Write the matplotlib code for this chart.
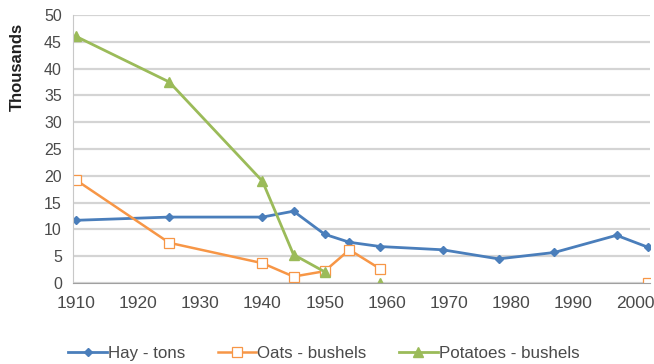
import numpy as np
import matplotlib.pyplot as plt

plt.rcParams['font.family'] = ['Liberation Sans', 'DejaVu Sans']

# values (thousands); nan = gap in the line
hay_years = [1910, 1925, 1940, 1945, 1950, 1954, 1959, 1969, 1978, 1987, 1997, 2002]
hay_tons = [11.7, 12.3, 12.3, 13.4, 9.1, 7.6, 6.8, 6.2, 4.5, 5.7, 8.9, 6.7]

oats_years = [1910, 1925, 1940, 1945, 1950, 1954, 1959, 1969, 2002]
oats_bushels = [19.2, 7.5, 3.7, 1.2, 2.2, 6.2, 2.6, np.nan, 0.0]

potato_years = [1910, 1925, 1940, 1945, 1950, 1954, 1959]
potato_bushels = [46.0, 37.5, 19.0, 5.3, 2.1, np.nan, 0.0]

x_ticks = [1910, 1920, 1930, 1940, 1950, 1960, 1970, 1980, 1990, 2000]
y_ticks = [0, 5, 10, 15, 20, 25, 30, 35, 40, 45, 50]

blue = '#4a7ebb'
orange = '#f79646'
green = '#9bbb59'
text_col = '#4a4a4a'

fig = plt.figure(figsize=(6.54, 3.64), dpi=100)
ax = fig.add_axes([0.1116, 0.2225, 0.8824, 0.7363])

ax.plot(hay_years, hay_tons, color=blue, lw=2, marker='D', ms=4.5,
        label='Hay - tons')
ax.plot(oats_years, oats_bushels, color=orange, lw=1.8, marker='s', ms=6.5,
        markerfacecolor='white', markeredgewidth=0.9, label='Oats - bushels')
ax.plot(potato_years, potato_bushels, color=green, lw=2, marker='^', ms=6.5,
        label='Potatoes - bushels')

ax.set_xlim(1909.5, 2002.4)
ax.set_ylim(0, 50)
ax.set_xticks(x_ticks)
ax.set_yticks(y_ticks)
ax.tick_params(axis='x', length=0, pad=9, labelsize=12.5, colors=text_col)
ax.tick_params(axis='y', length=0, pad=8, labelsize=11.5, colors=text_col)

ax.grid(axis='y', color='#d4d4d4', lw=1.6)
ax.set_axisbelow(True)
for side in ['top', 'right']:
    ax.spines[side].set_visible(False)
ax.spines['left'].set_color('#c8c8c8')
ax.spines['bottom'].set_color('#a0a0a0')

fig.text(17 / 654, 1 - 67 / 364, 'Thousands', rotation=90, ha='center',
         va='center', fontsize=12, fontweight='bold', color='#202020')

fig.legend(loc='center', bbox_to_anchor=(0.495, 0.03), ncol=3, frameon=False,
           fontsize=12.2, handlelength=2.3, columnspacing=1.9,
           handletextpad=0.05, labelcolor=text_col)

fig.savefig('out.png', dpi=100)
